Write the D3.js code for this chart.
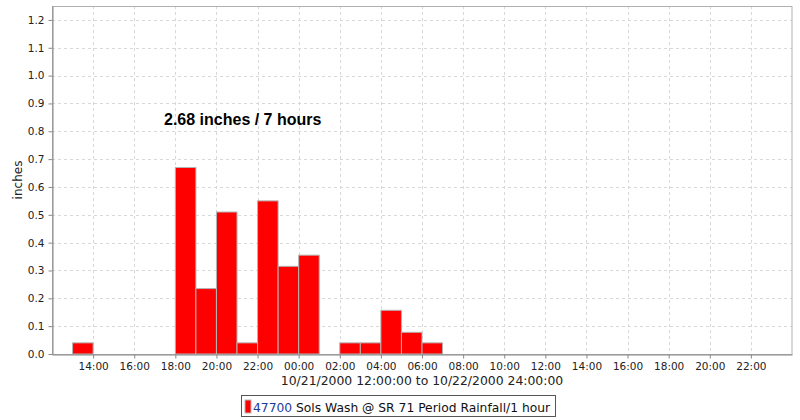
<!DOCTYPE html>
<html>
<head>
<meta charset="utf-8">
<script src="https://cdn.jsdelivr.net/npm/d3@7"></script>
<style>
body { margin: 0; background: #fff; }
svg { display: block; }
</style>
</head>
<body>
<svg id="chart" width="800" height="420"></svg>
<script>
// Data: hourly period rainfall (inches), bar spans [start hour, start hour + 1)
const barStarts = [
  "2000-10-21T13:00", "2000-10-21T18:00", "2000-10-21T19:00", "2000-10-21T20:00",
  "2000-10-21T21:00", "2000-10-21T22:00", "2000-10-21T23:00", "2000-10-22T00:00",
  "2000-10-22T02:00", "2000-10-22T03:00", "2000-10-22T04:00", "2000-10-22T05:00",
  "2000-10-22T06:00"
];
const rainfall = [0.04, 0.67, 0.235, 0.51, 0.04, 0.55, 0.315, 0.355, 0.04, 0.04, 0.157, 0.078, 0.04];
const yTicks = [0.0, 0.1, 0.2, 0.3, 0.4, 0.5, 0.6, 0.7, 0.8, 0.9, 1.0, 1.1, 1.2];
const seriesName = "Sols Wash @ SR 71 Period Rainfall/1 hour";
const seriesId = "47700";
const yLabel = "inches";
const xTitle = "10/21/2000 12:00:00 to 10/22/2000 24:00:00";
const annotation = "2.68 inches / 7 hours";
const domainStart = "2000-10-21T12:00";
const domainEnd = "2000-10-23T00:00";

const parse = d3.timeParse("%Y-%m-%dT%H:%M");
const bars = barStarts.map((s, i) => ({ t: parse(s), v: rainfall[i] }));

const svg = d3.select("#chart");
const m = { left: 52, top: 6, right: 792, bottom: 354 };

const x = d3.scaleTime().domain([parse(domainStart), parse(domainEnd)]).range([m.left, m.right]);
const y = d3.scaleLinear().domain([0, 1.25]).range([m.bottom, m.top]);

const xTickVals = d3.timeHour.every(2).range(d3.timeHour.offset(parse(domainStart), 2), parse(domainEnd));

// grid
const grid = svg.append("g");
grid.selectAll("line.v").data(xTickVals).join("line")
  .attr("x1", d => Math.round(x(d)) + 0.5).attr("x2", d => Math.round(x(d)) + 0.5)
  .attr("y1", m.top).attr("y2", m.bottom)
  .attr("stroke", "#d8d8d8").attr("stroke-dasharray", "3,3");
grid.selectAll("line.h").data(yTicks.slice(1)).join("line")
  .attr("x1", m.left).attr("x2", m.right)
  .attr("y1", d => Math.round(y(d)) + 0.5).attr("y2", d => Math.round(y(d)) + 0.5)
  .attr("stroke", "#d8d8d8").attr("stroke-dasharray", "3,3");

// frame (top/right)
svg.append("rect")
  .attr("x", m.left + 0.5).attr("y", m.top + 0.5)
  .attr("width", m.right - m.left - 0.5).attr("height", m.bottom - m.top)
  .attr("fill", "none").attr("stroke", "#b0b0b0");

// bars
svg.append("g").selectAll("rect").data(bars).join("rect")
  .attr("x", d => x(d.t))
  .attr("y", d => y(d.v))
  .attr("width", d => x(d3.timeHour.offset(d.t, 1)) - x(d.t))
  .attr("height", d => y(0) - y(d.v))
  .attr("fill", "#ff0000")
  .attr("stroke", "#b4b4b4").attr("stroke-width", 1);

// axes
const xAxis = d3.axisBottom(x).tickValues(xTickVals).tickFormat(d3.timeFormat("%H:%M")).tickSizeOuter(0).tickSizeInner(4).tickPadding(4);
const gx = svg.append("g").attr("transform", `translate(0,${m.bottom + 0.5})`).call(xAxis);
gx.select(".domain").attr("stroke", "#888");
gx.selectAll(".tick line").attr("stroke", "#888");
gx.selectAll("text").attr("font-family", "DejaVu Sans").attr("font-size", 10.5).attr("fill", "#222");

const yAxis = d3.axisLeft(y).tickValues(yTicks).tickFormat(d3.format(".1f")).tickSizeOuter(0).tickSizeInner(4).tickPadding(4);
const gy = svg.append("g").attr("transform", `translate(${m.left + 0.5},0)`).call(yAxis);
gy.select(".domain").attr("stroke", "#888");
gy.selectAll(".tick line").attr("stroke", "#888");
gy.selectAll("text").attr("font-family", "DejaVu Sans").attr("font-size", 10.5).attr("fill", "#222");

// labels
svg.append("text").attr("transform", "translate(22,180) rotate(-90)")
  .attr("text-anchor", "middle").attr("font-family", "DejaVu Sans").attr("font-size", 12).attr("fill", "#222")
  .text(yLabel);
svg.append("text").attr("x", (m.left + m.right) / 2).attr("y", 385)
  .attr("text-anchor", "middle").attr("font-family", "DejaVu Sans").attr("font-size", 12.4).attr("fill", "#222")
  .text(xTitle);
svg.append("text").attr("x", 164).attr("y", 125)
  .attr("font-family", "Liberation Sans").attr("font-size", 16).attr("font-weight", "bold").attr("fill", "#000")
  .text(annotation);

// legend
const lg = svg.append("g");
lg.append("rect").attr("x", 241.5).attr("y", 395.5).attr("width", 314).attr("height", 21)
  .attr("fill", "#fff").attr("stroke", "#555");
lg.append("rect").attr("x", 245).attr("y", 400).attr("width", 6).attr("height", 13)
  .attr("fill", "#ff0000").attr("stroke", "#b4b4b4");
const lt = lg.append("text").attr("x", 253).attr("y", 411.5)
  .attr("font-family", "DejaVu Sans").attr("font-size", 12.3).attr("fill", "#111");
lt.append("tspan").attr("fill", "#1a3a9a").text(seriesId);
lt.append("tspan").text(" " + seriesName);
</script>
</body>
</html>
